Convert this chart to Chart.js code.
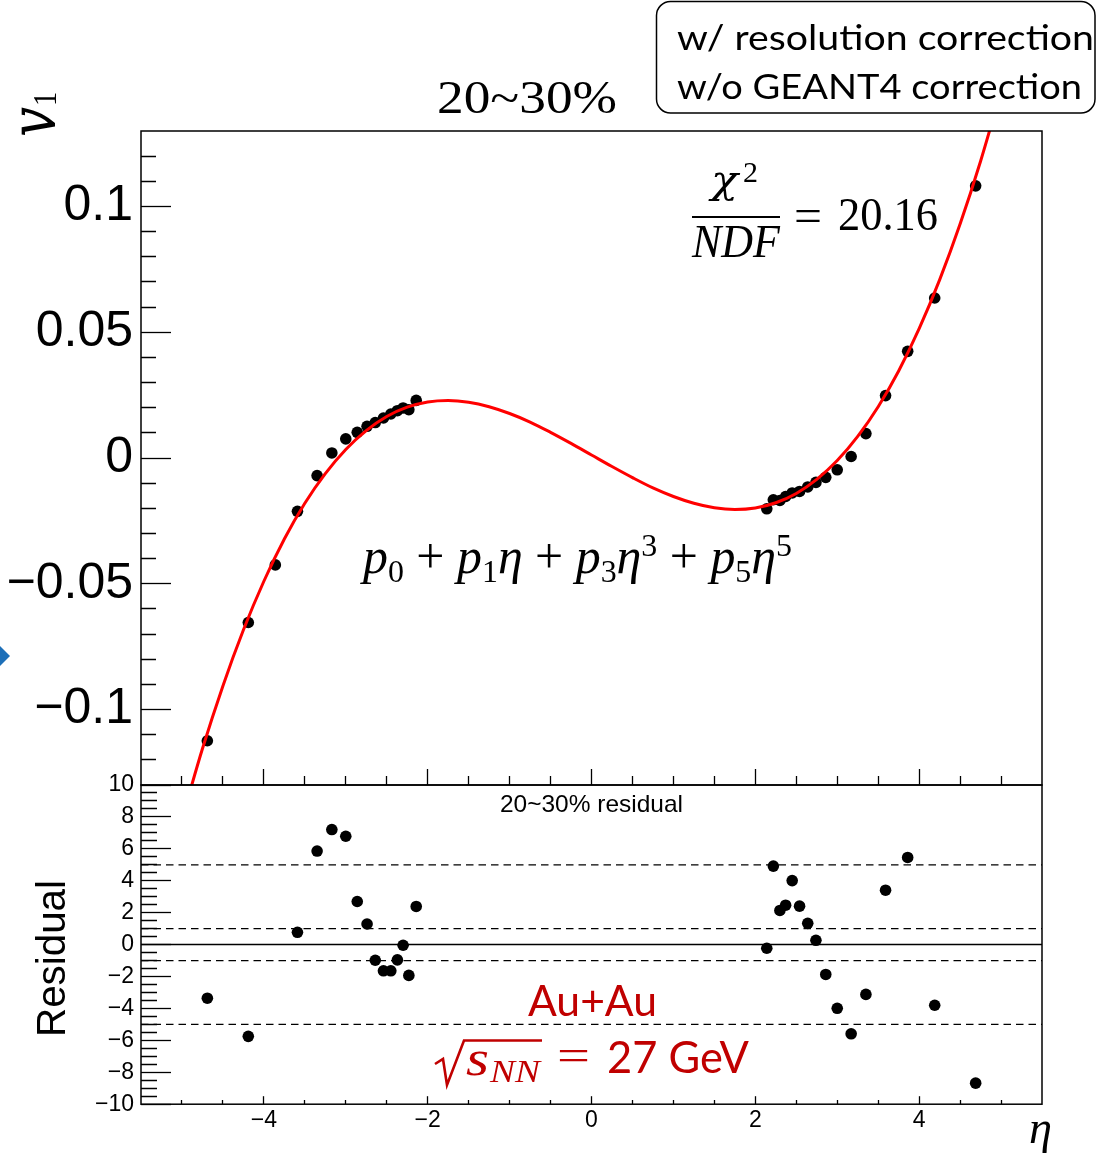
<!DOCTYPE html>
<html><head><meta charset="utf-8">
<script src="https://cdn.jsdelivr.net/npm/chart.js@4.4.1/dist/chart.umd.min.js"></script>
<style>
html,body{margin:0;padding:0;background:#fff;}
#wrap{position:relative;width:1109px;height:1155px;overflow:hidden;background:#fff;}
canvas{position:absolute;left:0;top:0;}
</style>
</head><body>
<div id="wrap"><canvas id="cTop" width="1109" height="1155"></canvas><canvas id="cRes" width="1109" height="1155"></canvas></div>
<script>
// ---------------- data ----------------
const etaPoints = [-4.69,-4.19,-3.86,-3.59,-3.35,-3.17,-3.00,-2.86,-2.74,-2.64,-2.54,-2.45,-2.37,-2.30,-2.23,-2.14,
                    2.14,2.22,2.30,2.37,2.45,2.54,2.64,2.74,2.86,3.00,3.17,3.35,3.59,3.86,4.19,4.69];
const v1Points = [-0.1124,-0.0654,-0.0425,-0.0212,-0.0070,0.0020,0.0076,0.0102,0.0126,0.0141,0.0159,0.0175,0.0188,0.0199,0.0192,0.0229,
                  -0.0202,-0.0166,-0.0169,-0.0153,-0.0139,-0.0133,-0.0115,-0.0097,-0.0077,-0.0047,0.0006,0.0097,0.0248,0.0424,0.0636,0.1082];
const residualPoints = [-3.36,-5.75,null,0.77,5.86,7.21,6.79,2.70,1.29,-0.98,-1.64,-1.64,-0.96,-0.04,-1.93,2.39,
                        -0.23,4.92,2.14,2.47,4.01,2.41,1.33,0.27,-1.87,-3.99,-5.59,-3.12,3.41,5.46,-3.80,-8.68];
// fit curve
const curveEta = [-5.00,-4.75,-4.50,-4.25,-4.00,-3.75,-3.50,-3.25,-3.00,-2.75,-2.50,-2.25,-2.00,-1.75,-1.50,-1.25,-1.00,-0.75,-0.50,-0.25,
                  0.00,0.25,0.50,0.75,1.00,1.25,1.50,1.75,2.00,2.25,2.50,2.75,3.00,3.25,3.50,3.75,4.00,4.25,4.50,4.75,5.00];
const curveV1 = [-0.1436,-0.1156,-0.0906,-0.0684,-0.0490,-0.0322,-0.0180,-0.0062,0.0034,0.0109,0.0165,0.0202,0.0223,0.0229,0.0222,0.0204,0.0177,0.0143,0.0102,0.0058,
                 0.0012,-0.0034,-0.0078,-0.0119,-0.0153,-0.0180,-0.0198,-0.0205,-0.0199,-0.0178,-0.0141,-0.0085,-0.0010,0.0086,0.0204,0.0346,0.0514,0.0708,0.0930,0.1180,0.1460];
const resLevelsDashed = [5, 1, -1, -5];
const resLevelZero = [0];

// ---------------- ticks ----------------
const xMajorTicks = [-4, -2, 0, 2, 4];
const xMajorLabels = ['\u22124', '\u22122', '0', '2', '4'];
const v1MajorTicks = [-0.1, -0.05, 0, 0.05, 0.1];
const v1MajorLabels = ['\u22120.1', '\u22120.05', '0', '0.05', '0.1'];
const resMajorTicks = [-10, -8, -6, -4, -2, 0, 2, 4, 6, 8, 10];
const resMajorLabels = ['\u221210', '\u22128', '\u22126', '\u22124', '\u22122', '0', '2', '4', '6', '8', '10'];

function steps(a, b, s) { const out = []; const n = Math.round((b - a) / s); for (let i = 0; i <= n; i++) out.push(+(a + i * s).toFixed(6)); return out; }
const xAllTicks = steps(-5, 5, 0.5);
const v1AllTicks = steps(-0.12, 0.12, 0.01);
const resAllTicks = steps(-10, 10, 0.5);

function idxOf(v, arr) { for (let i = 0; i < arr.length; i++) if (Math.abs(arr[i] - v) < 1e-9) return i; return -1; }
function lab(v, majors, labels) { const i = idxOf(v, majors); return i < 0 ? '' : labels[i]; }
function isMajor(c, majors) { return c.tick && idxOf(c.tick.value, majors) >= 0; }

Chart.defaults.font.family = '"Liberation Sans", Arial, sans-serif';
Chart.defaults.color = '#000';

const frame = {
  id: 'frame',
  afterDatasetsDraw(chart) {
    const {ctx, chartArea: a} = chart;
    ctx.save(); ctx.strokeStyle = '#000'; ctx.lineWidth = 1.5;
    ctx.strokeRect(a.left, a.top, a.right - a.left, a.bottom - a.top);
    ctx.restore();
  }
};

function fitText(ctx, text, x, y, font, targetW, color) {
  ctx.save(); ctx.font = font; ctx.textAlign = 'left'; ctx.textBaseline = 'alphabetic';
  const w = ctx.measureText(text).width; const sx = targetW ? targetW / w : 1;
  ctx.translate(x, y); ctx.scale(sx, 1); ctx.fillStyle = color || '#000'; ctx.fillText(text, 0, 0); ctx.restore();
}
function richText(ctx, pieces, x, y, targetW, color) {
  ctx.save(); ctx.textAlign = 'left'; ctx.textBaseline = 'alphabetic';
  let total = 0;
  for (const p of pieces) { ctx.font = p.f; p.w = ctx.measureText(p.t).width; total += p.w; }
  const sx = targetW ? targetW / total : 1;
  ctx.translate(x, y); ctx.scale(sx, 1); ctx.fillStyle = color || '#000';
  let cx = 0;
  for (const p of pieces) { ctx.font = p.f; ctx.fillText(p.t, cx, p.dy || 0); cx += p.w; }
  ctx.restore();
}

const SERIF = '"Liberation Serif", "DejaVu Serif", serif';
const DSERIF = '"DejaVu Serif", serif';
const CAL = 'Lato, "Open Sans", sans-serif';

const textsTop = {
  id: 'textsTop',
  afterDraw(chart) {
    const ctx = chart.ctx;
    // v1 rotated
    ctx.save(); ctx.translate(55, 137); ctx.rotate(-Math.PI / 2); ctx.scale(0.95, 1.15);
    ctx.fillStyle = '#000'; ctx.textBaseline = 'alphabetic';
    ctx.font = 'italic 56px ' + DSERIF; ctx.fillText('v', 0, 0);
    const wv = ctx.measureText('v').width;
    ctx.font = '30px ' + SERIF; ctx.fillText('1', wv + 1, 1);
    ctx.restore();
    // title
    fitText(ctx, '20~30%', 437, 113, '47px ' + SERIF, 180);
    // box
    ctx.save(); ctx.strokeStyle = '#000'; ctx.lineWidth = 1.5;
    ctx.beginPath(); ctx.roundRect(656.5, 1.5, 438.5, 111.5, 14); ctx.stroke(); ctx.restore();
    fitText(ctx, 'w/ resolution correction', 677, 50, '34px ' + CAL, 417);
    fitText(ctx, 'w/o GEANT4 correction', 677, 99, '34px ' + CAL, 405);
    // chi2 / NDF
    fitText(ctx, '\u03C7', 711, 193, 'italic 40px ' + DSERIF, 27);
    fitText(ctx, '2', 743, 182, '30px ' + SERIF, 0);
    ctx.fillStyle = '#000'; ctx.fillRect(692, 216, 88, 2);
    fitText(ctx, 'NDF', 692, 257, 'italic 46px ' + SERIF, 88);
    fitText(ctx, '=', 794, 231, '46px ' + SERIF, 28);
    fitText(ctx, '20.16', 838, 230, '46px ' + SERIF, 100);
    // formula
    const I = 'italic 50px ' + SERIF, R = '50px ' + SERIF, S = '32px ' + SERIF;
    richText(ctx, [
      {t: 'p', f: I}, {t: '0', f: S, dy: 9}, {t: ' + ', f: R},
      {t: 'p', f: I}, {t: '1', f: S, dy: 9}, {t: '\u03B7', f: I}, {t: ' + ', f: R},
      {t: 'p', f: I}, {t: '3', f: S, dy: 9}, {t: '\u03B7', f: I}, {t: '3', f: S, dy: -17}, {t: ' + ', f: R},
      {t: 'p', f: I}, {t: '5', f: S, dy: 9}, {t: '\u03B7', f: I}, {t: '5', f: S, dy: -17}
    ], 363, 573, 429);
    // blue diamond fragment at left edge
    ctx.save(); ctx.fillStyle = '#1d6fb8'; ctx.beginPath();
    ctx.moveTo(-33, 656); ctx.lineTo(-11.5, 634.5); ctx.lineTo(10, 656); ctx.lineTo(-11.5, 677.5); ctx.closePath(); ctx.fill(); ctx.restore();
  }
};

const textsRes = {
  id: 'textsRes',
  afterDraw(chart) {
    const ctx = chart.ctx;
    fitText(ctx, '20~30% residual', 500, 811.7, '24px "Liberation Sans"', 183);
    // Residual (rotated)
    ctx.save(); ctx.translate(65, 1037); ctx.rotate(-Math.PI / 2);
    ctx.font = '40px "Liberation Sans"'; const w = ctx.measureText('Residual').width;
    ctx.scale(157 / w, 1); ctx.fillStyle = '#000'; ctx.fillText('Residual', 0, 0); ctx.restore();
    // eta axis label
    fitText(ctx, '\u03B7', 1029, 1143, 'italic 46px ' + SERIF, 23);
    // Au+Au
    const RED = '#c00000';
    fitText(ctx, 'Au+Au', 528, 1016, '43px ' + CAL, 129, RED);
    // sqrt(sNN) = 27 GeV
    ctx.save(); ctx.strokeStyle = RED; ctx.lineWidth = 2.6; ctx.lineJoin = 'miter';
    ctx.beginPath(); ctx.moveTo(435, 1064); ctx.lineTo(443, 1059); ctx.lineTo(447, 1085); ctx.lineTo(464, 1040.5); ctx.lineTo(542, 1040.5); ctx.stroke(); ctx.restore();
    fitText(ctx, 's', 466, 1075, 'italic 50px ' + SERIF, 23, RED);
    fitText(ctx, 'NN', 490, 1082, 'italic 31px ' + SERIF, 50, RED);
    fitText(ctx, '=', 557, 1070, '44px ' + SERIF, 33, RED);
    fitText(ctx, '27 GeV', 607, 1073, '44px ' + CAL, 142, RED);
  }
};

// ---------------- top panel ----------------
new Chart(document.getElementById('cTop'), {
  type: 'scatter',
  data: {
    datasets: [
      { type: 'line', label: 'fit', data: curveEta.map((x, i) => ({x, y: curveV1[i]})),
        borderColor: '#ff0000', borderWidth: 3, pointRadius: 0, cubicInterpolationMode: 'monotone', fill: false, order: 1 },
      { type: 'scatter', label: 'v1', data: etaPoints.map((x, i) => ({x, y: v1Points[i]})),
        pointRadius: 5.8, backgroundColor: '#000', borderWidth: 0, pointStyle: 'circle', order: 2 }
    ]
  },
  options: {
    responsive: false, animation: false, devicePixelRatio: 1, events: [],
    layout: { padding: { left: 0, top: 131, right: 67, bottom: 370 } },
    plugins: { legend: { display: false }, tooltip: { enabled: false } },
    scales: {
      x: { type: 'linear', min: -5.5, max: 5.5, position: 'bottom',
        afterBuildTicks: s => { s.ticks = xAllTicks.map(v => ({value: v})); },
        afterFit: s => { s.height = 0; },
        ticks: { display: false, autoSkip: false },
        grid: { drawOnChartArea: false, drawTicks: true, tickLength: -16, tickWidth: 1.3, tickColor: '#000',
                tickBorderDash: c => isMajor(c, xMajorTicks) ? [] : [9, 100] },
        border: { display: false } },
      y: { type: 'linear', min: -0.13, max: 0.13, position: 'left',
        afterBuildTicks: s => { s.ticks = v1AllTicks.map(v => ({value: v})); },
        afterFit: s => { s.width = 141; },
        ticks: { autoSkip: false, padding: 38, font: { size: 50 }, color: '#000',
                 callback: v => lab(v, v1MajorTicks, v1MajorLabels) },
        grid: { drawOnChartArea: false, drawTicks: true, tickLength: -30, tickWidth: 1.3, tickColor: '#000',
                tickBorderDash: c => isMajor(c, v1MajorTicks) ? [] : [0, 15, 15, 100] },
        border: { display: false } }
    }
  },
  plugins: [frame, textsTop]
});

// ---------------- residual panel ----------------
const levelSets = resLevelsDashed.map(l => ({ type: 'line', data: [{x: -5.5, y: l}, {x: 5.5, y: l}],
  borderColor: '#000', borderWidth: 1.3, borderDash: [7.5, 5], pointRadius: 0, fill: false, order: 3 }));
const zeroSets = resLevelZero.map(l => ({ type: 'line', data: [{x: -5.5, y: l}, {x: 5.5, y: l}],
  borderColor: '#000', borderWidth: 1.5, pointRadius: 0, fill: false, order: 3 }));

new Chart(document.getElementById('cRes'), {
  type: 'scatter',
  data: {
    datasets: [
      ...levelSets, ...zeroSets,
      { type: 'scatter', label: 'residual', data: etaPoints.map((x, i) => ({x, y: residualPoints[i]})),
        pointRadius: 5.8, backgroundColor: '#000', borderWidth: 0, order: 1 }
    ]
  },
  options: {
    responsive: false, animation: false, devicePixelRatio: 1, events: [],
    layout: { padding: { left: 0, top: 785, right: 67, bottom: 0 } },
    plugins: { legend: { display: false }, tooltip: { enabled: false } },
    scales: {
      x: { type: 'linear', min: -5.5, max: 5.5, position: 'bottom',
        afterBuildTicks: s => { s.ticks = xAllTicks.map(v => ({value: v})); },
        afterFit: s => { s.height = 49; },
        ticks: { autoSkip: false, maxRotation: 0, minRotation: 0, padding: 11, font: { size: 23 }, color: '#000',
                 callback: v => lab(v, xMajorTicks, xMajorLabels) },
        grid: { drawOnChartArea: false, drawTicks: true, tickLength: -8, tickWidth: 1.3, tickColor: '#000',
                tickBorderDash: c => isMajor(c, xMajorTicks) ? [] : [4, 100] },
        border: { display: false } },
      y: { type: 'linear', min: -10, max: 10, position: 'left',
        afterBuildTicks: s => { s.ticks = resAllTicks.map(v => ({value: v})); },
        afterFit: s => { s.width = 141; },
        ticks: { autoSkip: false, padding: 37, font: { size: 23 }, color: '#000',
                 callback: v => lab(v, resMajorTicks, resMajorLabels) },
        grid: { drawOnChartArea: false, drawTicks: true, tickLength: -30, tickWidth: 1.3, tickColor: '#000',
                tickBorderDash: c => isMajor(c, resMajorTicks) ? [] : [0, 14, 16, 100] },
        border: { display: false } }
    }
  },
  plugins: [frame, textsRes]
});
</script>
</body></html>
